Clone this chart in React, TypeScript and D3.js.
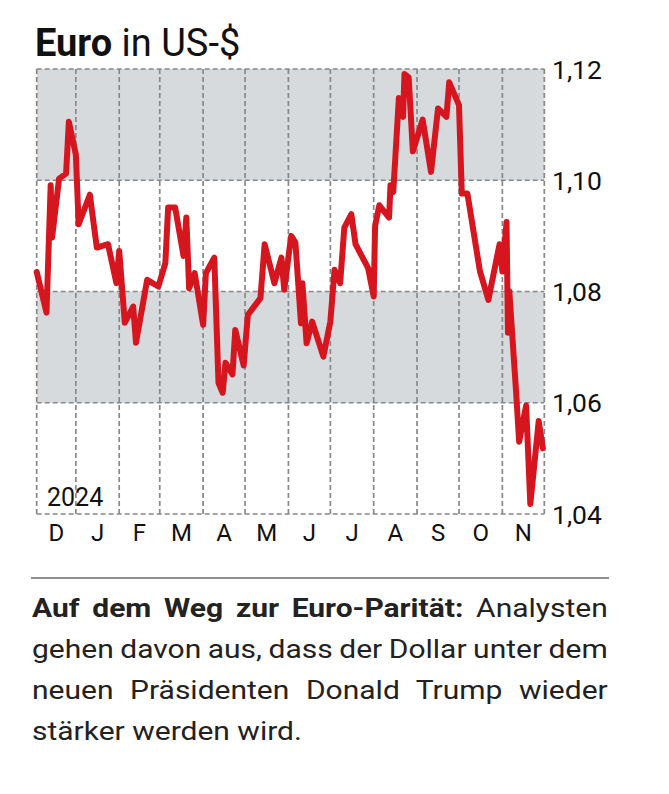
import React, { useLayoutEffect, useRef, useState } from "react";
import * as d3 from "d3";

const dates = [
  "2023-12-04","2023-12-11","2023-12-14","2023-12-15","2023-12-20","2023-12-25","2023-12-27",
  "2024-01-01","2024-01-03","2024-01-11","2024-01-16","2024-01-24","2024-01-30",
  "2024-02-01","2024-02-05","2024-02-11","2024-02-13","2024-02-21","2024-02-29",
  "2024-03-05","2024-03-07","2024-03-12","2024-03-18","2024-03-20","2024-03-22","2024-03-26",
  "2024-04-01","2024-04-03","2024-04-09","2024-04-12","2024-04-15","2024-04-17","2024-04-22","2024-04-24","2024-04-30",
  "2024-05-03","2024-05-12","2024-05-15","2024-05-22","2024-05-27","2024-05-29",
  "2024-06-03","2024-06-06","2024-06-10","2024-06-11","2024-06-14","2024-06-18","2024-06-26",
  "2024-07-01","2024-07-04","2024-07-08","2024-07-11","2024-07-16","2024-07-19","2024-07-28",
  "2024-08-01","2024-08-02","2024-08-05","2024-08-12","2024-08-13","2024-08-15","2024-08-19","2024-08-22","2024-08-23","2024-08-26","2024-08-29",
  "2024-09-05","2024-09-11","2024-09-16","2024-09-22","2024-09-24",
  "2024-10-01","2024-10-03","2024-10-07","2024-10-16","2024-10-22","2024-10-30",
  "2024-11-01","2024-11-04","2024-11-05","2024-11-06","2024-11-11","2024-11-13","2024-11-18","2024-11-21","2024-11-27","2024-11-30"
];
const values = [
  1.0835,1.0762,1.0991,1.0897,1.1003,1.1012,1.1105,
  1.1046,1.0921,1.0974,1.0879,1.0885,1.0815,
  1.0873,1.0744,1.0773,1.0708,1.0821,1.0809,
  1.0851,1.0951,1.0951,1.0864,1.0933,1.0806,1.0833,
  1.0740,1.0833,1.0861,1.0636,1.0618,1.0672,1.0651,1.0731,1.0667,
  1.0758,1.0788,1.0885,1.0815,1.0861,1.0803,
  1.0900,1.0888,1.0743,1.0815,1.0707,1.0746,1.0683,
  1.0746,1.0839,1.0815,1.0915,1.0939,1.0885,1.0842,
  1.0791,1.0918,1.0955,1.0933,1.0991,1.0979,1.1148,1.1114,1.1191,1.1185,1.1052,
  1.1109,1.1015,1.1129,1.1114,1.1176,
  1.1135,1.0976,1.0976,1.0836,1.0785,1.0885,
  1.0836,1.0925,1.0726,1.0800,1.0613,1.0530,1.0595,1.0418,1.0567,1.0518
];
const yTicks = [1.04, 1.06, 1.08, 1.10, 1.12];
const yTickLabels = ["1,04", "1,06", "1,08", "1,10", "1,12"];
const bands = [[1.06, 1.08], [1.10, 1.12]];
const monthLabels = ["D", "J", "F", "M", "A", "M", "J", "J", "A", "S", "O", "N"];
const domainStart = "2023-12-04";
const domainEnd = "2024-12-01";
const yearLabel = "2024";
const titleBold = "Euro";
const titleRest = " in US-$";
const captionBold = "Auf dem Weg zur Euro-Parität:";
const captionLines = [
  " Analysten",
  "gehen davon aus, dass der Dollar unter dem",
  "neuen Präsidenten Donald Trump wieder",
  "stärker werden wird.",
];

const parse = d3.timeParse("%Y-%m-%d");
const FONT = "Roboto, 'Open Sans', sans-serif";

export default function App() {
  const W = 669, H = 794;
  const left = 36.7, right = 544.3, top = 69, bottom = 514;
  const x = d3.scaleTime().domain([parse(domainStart)!, parse(domainEnd)!]).range([left, right]);
  const y = d3.scaleLinear().domain([1.04, 1.12]).range([bottom, top]);
  const pts = dates.map((d, i) => [x(parse(d)!), y(values[i])] as [number, number]);
  const line = d3.line();
  const months = d3.timeMonth.range(d3.timeMonth.floor(parse(domainStart)!), parse(domainEnd)!);
  const monthStarts = months.filter((m) => m > parse(domainStart)!);
  const vlines = [left, ...monthStarts.map((m) => x(m)), right];

  const lineRefs = useRef<(SVGTextElement | null)[]>([]);
  const [layout, setLayout] = useState<{ s: number; sp: number[] }>({ s: 1, sp: [0, 0, 0, 0] });
  const capLeft = 32, capWidth = 576, lastLineWidth = 270;
  useLayoutEffect(() => {
    const els = lineRefs.current;
    if (!els[3]) return;
    const s = lastLineWidth / els[3].getComputedTextLength();
    const sp = [0, 0, 0, 0];
    for (let i = 0; i < 3; i++) {
      const el = els[i];
      if (!el) continue;
      const len = el.getComputedTextLength();
      const txt = i === 0 ? captionBold + captionLines[0] : captionLines[i];
      const nSp = (txt.match(/ /g) || []).length;
      sp[i] = nSp ? (capWidth / s - len) / nSp : 0;
    }
    setLayout({ s, sp });
  }, []);

  const capSize = 26;
  return (
    <svg width={W} height={H} style={{ position: "absolute", left: 0, top: 0, background: "#fff" }} fontFamily={FONT}>
      <text x={35} y={56} fontSize={38} fill="#111">
        <tspan fontWeight={700}>{titleBold}</tspan>
        <tspan>{titleRest}</tspan>
      </text>
      {bands.map(([a, b], i) => (
        <rect key={i} x={left} width={right - left} y={y(b)} height={y(a) - y(b)} fill="#d6dadd" />
      ))}
      {yTicks.map((t) => (
        <line key={t} x1={left} x2={right} y1={y(t)} y2={y(t)} stroke="#888" strokeWidth={1.7} strokeDasharray="5,3" />
      ))}
      {vlines.map((vx, i) => (
        <line key={i} x1={vx} x2={vx} y1={top} y2={bottom} stroke="#888" strokeWidth={1.7} strokeDasharray="5,3" />
      ))}
      <path d={line(pts) || ""} fill="none" stroke="#d6161f" strokeWidth={6} strokeLinejoin="round" strokeLinecap="round" />
      {yTicks.map((t, i) => (
        <text key={t} x={552} y={y(t)} dy="0.36em" fontSize={26.5} fill="#111">{yTickLabels[i]}</text>
      ))}
      {months.map((m, i) => {
        const s = Math.max(x(m), left);
        const e = Math.min(x(d3.timeMonth.offset(m, 1)), right);
        return (
          <text key={i} x={(s + e) / 2} y={541} fontSize={24} textAnchor="middle" fill="#111">{monthLabels[i]}</text>
        );
      })}
      <text x={47} y={506} fontSize={25} fill="#111">{yearLabel}</text>
      <line x1={31} x2={609} y1={578} y2={578} stroke="#222" strokeWidth={1.2} />
      <g transform={`translate(${capLeft},0) scale(${layout.s},1)`} fill="#222" fontSize={capSize}>
        <text ref={(el) => { lineRefs.current[0] = el; }} x={0} y={617} wordSpacing={layout.sp[0]}>
          <tspan fontWeight={700}>{captionBold}</tspan>
          <tspan>{captionLines[0]}</tspan>
        </text>
        {captionLines.slice(1).map((l, i) => (
          <text key={i} ref={(el) => { lineRefs.current[i + 1] = el; }} x={0} y={658 + i * 41} wordSpacing={i < 2 ? layout.sp[i + 1] : 0}>{l}</text>
        ))}
      </g>
    </svg>
  );
}
